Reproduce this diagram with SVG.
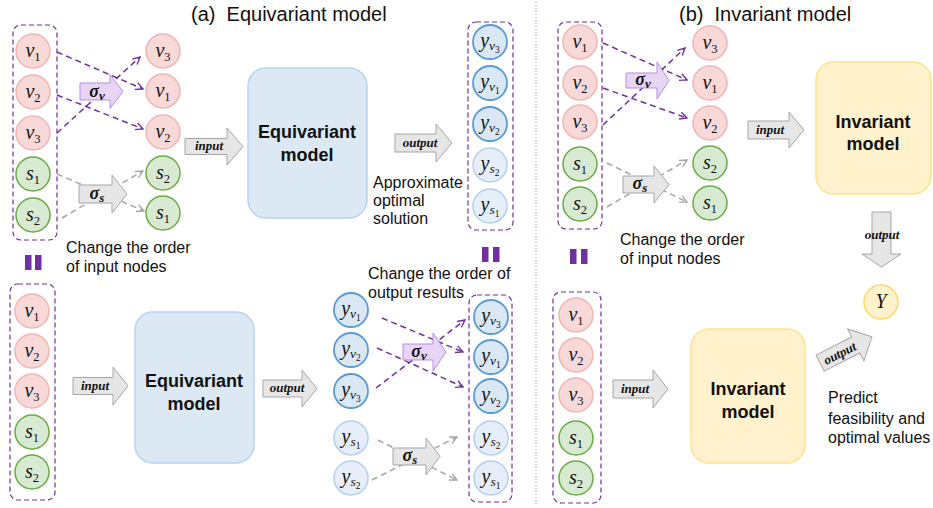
<svg xmlns="http://www.w3.org/2000/svg" width="933" height="508" viewBox="0 0 933 508">
<style>
text{font-family:"Liberation Sans",Arial,sans-serif;fill:#111}
.t{font-size:16px}
.ttl{font-size:20px}
.mdl{font-size:18px;font-weight:bold;text-anchor:middle}
.m{font-family:"Liberation Serif","Times New Roman",serif;font-style:italic;font-size:20px;text-anchor:middle}
.sb{font-style:normal;font-size:12.5px}
.sbi{font-style:italic;font-size:13.5px}
.ss{font-style:normal;font-size:9.5px}
.lb{font-family:"Liberation Serif","Times New Roman",serif;font-style:italic;font-weight:bold;font-size:13px;text-anchor:middle}
.sg{font-family:"Liberation Serif","Times New Roman",serif;font-style:italic;font-weight:bold;font-size:18px;text-anchor:middle}
.sgs{font-size:13px}
.pk{fill:#f8d9d8;stroke:#f1b5b3;stroke-width:1.5}
.gr{fill:#d9ead3;stroke:#6aac45;stroke-width:1.5}
.bd{fill:#dae8f6;stroke:#5b9bd5;stroke-width:1.8}
.bl{fill:#e6eff9;stroke:#b3cfee;stroke-width:1.5}
.yl{fill:#fff2cc;stroke:#ffd966;stroke-width:1.5}
.grp{fill:none;stroke:#7030a0;stroke-width:1.2;stroke-dasharray:5,3}
.ga{fill:#e6e6e6;stroke:#a6a6a6;stroke-width:1}
.pa{fill:#e8d5f6;stroke:#b48fe0;stroke-width:1}
.eq{fill:#7030a0}
.bm{fill:#dce9f5;stroke:#b8d3ee;stroke-width:1.5}
.ym{fill:#fff2cc;stroke:#ffe28f;stroke-width:1.5}
.dp{fill:none;stroke:#7030a0;stroke-width:1.5;stroke-dasharray:6,4;marker-end:url(#mp)}
.dg{fill:none;stroke:#a6a6a6;stroke-width:1.5;stroke-dasharray:6,4;marker-end:url(#mg)}
</style>
<defs>
<marker id="mp" viewBox="0 0 10 10" refX="9" refY="5" markerWidth="9" markerHeight="9" markerUnits="userSpaceOnUse" orient="auto"><path d="M1,1 L9,5 L1,9" fill="none" stroke="#7030a0" stroke-width="1.5"/></marker>
<marker id="mg" viewBox="0 0 10 10" refX="9" refY="5" markerWidth="9" markerHeight="9" markerUnits="userSpaceOnUse" orient="auto"><path d="M1,1 L9,5 L1,9" fill="none" stroke="#a6a6a6" stroke-width="1.5"/></marker>
</defs>

<!-- titles and notes -->
<text class="ttl" x="191" y="21">(a)&#160; Equivariant model</text>
<text class="ttl" x="679" y="21">(b)&#160; Invariant model</text>
<line x1="536" y1="2" x2="536" y2="506" stroke="#999" stroke-width="1" stroke-dasharray="1,2"/>
<text class="t" x="66" y="253">Change the order</text>
<text class="t" x="66" y="272">of input nodes</text>
<text class="t" x="373" y="188">Approximate</text>
<text class="t" x="373" y="206">optimal</text>
<text class="t" x="373" y="224">solution</text>
<text class="t" x="368" y="279">Change the order of</text>
<text class="t" x="368" y="298">output results</text>
<text class="t" x="620" y="245">Change the order</text>
<text class="t" x="620" y="264">of input nodes</text>
<text class="t" x="828" y="403">Predict</text>
<text class="t" x="828" y="424">feasibility and</text>
<text class="t" x="828" y="443">optimal values</text>
<g id="eq1"><rect class="eq" x="25" y="255" width="6.5" height="15"/><rect class="eq" x="35" y="255" width="6.5" height="15"/></g>
<g id="eq2"><rect class="eq" x="482" y="247" width="6.5" height="15"/><rect class="eq" x="493" y="247" width="6.5" height="15"/></g>
<g id="eq3"><rect class="eq" x="570" y="249" width="6.5" height="15"/><rect class="eq" x="581" y="249" width="6.5" height="15"/></g>

<!-- connectors -->
<g id="connectors">
<line class="dp" x1="57" y1="52" x2="143" y2="89"/>
<line class="dp" x1="57" y1="95" x2="143" y2="129"/>
<line class="dp" x1="57" y1="133" x2="140" y2="57"/>
<line class="dg" x1="57" y1="174" x2="144" y2="211"/>
<line class="dg" x1="62" y1="218" x2="143" y2="171"/>
<line class="dp" x1="382" y1="318" x2="463" y2="352"/>
<line class="dp" x1="377" y1="348" x2="463" y2="387"/>
<line class="dp" x1="376" y1="388" x2="465" y2="320"/>
<line class="dg" x1="378" y1="440" x2="457" y2="480"/>
<line class="dg" x1="372" y1="480" x2="457" y2="437"/>
<line class="dp" x1="603" y1="43" x2="687" y2="80"/>
<line class="dp" x1="603" y1="88" x2="687" y2="118"/>
<line class="dp" x1="603" y1="125" x2="685" y2="48"/>
<line class="dg" x1="607" y1="163" x2="687" y2="202"/>
<line class="dg" x1="607" y1="207" x2="687" y2="160"/>
</g>

<!-- block arrows -->
<g id="sigma-v-a1"><path class="pa" d="M80,83 L110,83 L110,74.5 L123,91.5 L110,108.5 L110,100 L80,100 Z"/><text class="sg" x="97" y="97">σ<tspan class="sgs" dy="3">v</tspan></text></g>
<g id="sigma-s-a1"><path class="ga" d="M79,185 L112,185 L112,175 L127,194 L112,213 L112,203 L79,203 Z"/><text class="sg" x="97" y="199">σ<tspan class="sgs" dy="3">s</tspan></text></g>
<g id="input-a1"><path class="ga" d="M185,138.5 L227,138.5 L227,128 L243,146.5 L227,165 L227,154.5 L185,154.5 Z"/><text class="lb" x="209" y="150">input</text></g>
<g id="output-a1"><path class="ga" d="M395,134 L436,134 L436,124 L452,143 L436,162 L436,152 L395,152 Z"/><text class="lb" x="420" y="147">output</text></g>
<g id="input-a2"><path class="ga" d="M73,377.5 L113,377.5 L113,367 L128,386 L113,405 L113,394.5 L73,394.5 Z"/><text class="lb" x="95" y="390">input</text></g>
<g id="output-a2"><path class="ga" d="M263,380 L302,380 L302,370 L317,388.5 L302,407 L302,397 L263,397 Z"/><text class="lb" x="287" y="392">output</text></g>
<g id="sigma-v-a2"><path class="pa" d="M403,344 L433,344 L433,333 L446,352 L433,371 L433,360 L403,360 Z"/><text class="sg" x="419" y="357">σ<tspan class="sgs" dy="3">v</tspan></text></g>
<g id="sigma-s-a2"><path class="ga" d="M393,448 L426,448 L426,438 L440,456.5 L426,475 L426,465 L393,465 Z"/><text class="sg" x="410" y="461">σ<tspan class="sgs" dy="3">s</tspan></text></g>
<g id="sigma-v-b"><path class="pa" d="M626,73 L657,73 L657,62 L669,80.5 L657,99 L657,88 L626,88 Z"/><text class="sg" x="643" y="85">σ<tspan class="sgs" dy="3">v</tspan></text></g>
<g id="sigma-s-b"><path class="ga" d="M623,176 L654,176 L654,166 L669,184.5 L654,203 L654,193 L623,193 Z"/><text class="sg" x="640" y="189">σ<tspan class="sgs" dy="3">s</tspan></text></g>
<g id="input-b1"><path class="ga" d="M748,121 L789,121 L789,112 L804,130 L789,148 L789,139 L748,139 Z"/><text class="lb" x="770" y="134">input</text></g>
<g id="output-b1"><path class="ga" d="M872,212 L891,212 L891,254 L901,254 L881.5,267 L862,254 L872,254 Z"/><text class="lb" x="882" y="239">output</text></g>
<g id="input-b2"><path class="ga" d="M613,380 L653,380 L653,370 L668,389 L653,408 L653,398 L613,398 Z"/><text class="lb" x="635" y="393">input</text></g>
<g id="output-b2" transform="translate(846,350) rotate(-27)"><path class="ga" d="M-29,-9 L11,-9 L11,-18 L29,0 L11,18 L11,9 L-29,9 Z"/><text class="lb" x="-7" y="4.5">output</text></g>

<!-- models -->
<g id="equi-model-1"><rect class="bm" x="248" y="68" width="119" height="150" rx="18"/><text class="mdl" x="307" y="138">Equivariant</text><text class="mdl" x="307" y="161">model</text></g>
<g id="equi-model-2"><rect class="bm" x="135" y="312" width="119" height="151" rx="18"/><text class="mdl" x="194" y="387">Equivariant</text><text class="mdl" x="194" y="410">model</text></g>
<g id="inv-model-1"><rect class="ym" x="816" y="62" width="115" height="132" rx="18"/><text class="mdl" x="873" y="128">Invariant</text><text class="mdl" x="873" y="150">model</text></g>
<g id="inv-model-2"><rect class="ym" x="691" y="329" width="114" height="134" rx="18"/><text class="mdl" x="748" y="395">Invariant</text><text class="mdl" x="748" y="418">model</text></g>

<!-- (a) top input group -->
<g id="grp-a1"><rect class="grp" x="13" y="25" width="44" height="215" rx="8"/>
<g id="a1-v1"><circle class="pk" cx="33" cy="51" r="17"/><text class="m" x="33" y="57">v<tspan class="sb" dy="4">1</tspan></text></g>
<g id="a1-v2"><circle class="pk" cx="33" cy="92" r="17"/><text class="m" x="33" y="98">v<tspan class="sb" dy="4">2</tspan></text></g>
<g id="a1-v3"><circle class="pk" cx="33" cy="133" r="17"/><text class="m" x="33" y="139">v<tspan class="sb" dy="4">3</tspan></text></g>
<g id="a1-s1"><circle class="gr" cx="33" cy="174" r="17"/><text class="m" x="33" y="180">s<tspan class="sb" dy="4">1</tspan></text></g>
<g id="a1-s2"><circle class="gr" cx="33" cy="215" r="17"/><text class="m" x="33" y="221">s<tspan class="sb" dy="4">2</tspan></text></g>
</g>
<g id="a1p-v3"><circle class="pk" cx="163" cy="51" r="17"/><text class="m" x="163" y="57">v<tspan class="sb" dy="4">3</tspan></text></g>
<g id="a1p-v1"><circle class="pk" cx="163" cy="91" r="17"/><text class="m" x="163" y="97">v<tspan class="sb" dy="4">1</tspan></text></g>
<g id="a1p-v2"><circle class="pk" cx="163" cy="132" r="17"/><text class="m" x="163" y="138">v<tspan class="sb" dy="4">2</tspan></text></g>
<g id="a1p-s2"><circle class="gr" cx="163" cy="173" r="17"/><text class="m" x="163" y="179">s<tspan class="sb" dy="4">2</tspan></text></g>
<g id="a1p-s1"><circle class="gr" cx="163" cy="213" r="17"/><text class="m" x="163" y="219">s<tspan class="sb" dy="4">1</tspan></text></g>

<!-- (a) top outputs -->
<g id="grp-a1out"><rect class="grp" x="468" y="22" width="45" height="208" rx="8"/>
<g id="yo-v3"><circle class="bd" cx="490" cy="42" r="17"/><text class="m" x="490" y="47">y<tspan class="sbi" dy="3">v</tspan><tspan class="ss" dy="3">3</tspan></text></g>
<g id="yo-v1"><circle class="bd" cx="490" cy="83" r="17"/><text class="m" x="490" y="88">y<tspan class="sbi" dy="3">v</tspan><tspan class="ss" dy="3">1</tspan></text></g>
<g id="yo-v2"><circle class="bd" cx="490" cy="124" r="17"/><text class="m" x="490" y="129">y<tspan class="sbi" dy="3">v</tspan><tspan class="ss" dy="3">2</tspan></text></g>
<g id="yo-s2"><circle class="bl" cx="490" cy="165" r="17"/><text class="m" x="490" y="170">y<tspan class="sbi" dy="3">s</tspan><tspan class="ss" dy="3">2</tspan></text></g>
<g id="yo-s1"><circle class="bl" cx="490" cy="206" r="17"/><text class="m" x="490" y="211">y<tspan class="sbi" dy="3">s</tspan><tspan class="ss" dy="3">1</tspan></text></g>
</g>

<!-- (a) bottom input group -->
<g id="grp-a2"><rect class="grp" x="10" y="284" width="45" height="216" rx="8"/>
<g id="a2-v1"><circle class="pk" cx="32" cy="311" r="17"/><text class="m" x="32" y="317">v<tspan class="sb" dy="4">1</tspan></text></g>
<g id="a2-v2"><circle class="pk" cx="32" cy="351" r="17"/><text class="m" x="32" y="357">v<tspan class="sb" dy="4">2</tspan></text></g>
<g id="a2-v3"><circle class="pk" cx="32" cy="391" r="17"/><text class="m" x="32" y="397">v<tspan class="sb" dy="4">3</tspan></text></g>
<g id="a2-s1"><circle class="gr" cx="32" cy="432" r="17"/><text class="m" x="32" y="438">s<tspan class="sb" dy="4">1</tspan></text></g>
<g id="a2-s2"><circle class="gr" cx="32" cy="472" r="17"/><text class="m" x="32" y="478">s<tspan class="sb" dy="4">2</tspan></text></g>
</g>

<!-- (a) bottom outputs -->
<g id="y2-v1"><circle class="bd" cx="351" cy="310" r="17"/><text class="m" x="351" y="315">y<tspan class="sbi" dy="3">v</tspan><tspan class="ss" dy="3">1</tspan></text></g>
<g id="y2-v2"><circle class="bd" cx="351" cy="350" r="17"/><text class="m" x="351" y="355">y<tspan class="sbi" dy="3">v</tspan><tspan class="ss" dy="3">2</tspan></text></g>
<g id="y2-v3"><circle class="bd" cx="351" cy="391" r="17"/><text class="m" x="351" y="396">y<tspan class="sbi" dy="3">v</tspan><tspan class="ss" dy="3">3</tspan></text></g>
<g id="y2-s1"><circle class="bl" cx="351" cy="438" r="17"/><text class="m" x="351" y="443">y<tspan class="sbi" dy="3">s</tspan><tspan class="ss" dy="3">1</tspan></text></g>
<g id="y2-s2"><circle class="bl" cx="351" cy="478" r="17"/><text class="m" x="351" y="483">y<tspan class="sbi" dy="3">s</tspan><tspan class="ss" dy="3">2</tspan></text></g>
<g id="grp-a2out"><rect class="grp" x="469" y="295" width="43" height="207" rx="8"/>
<g id="y3-v3"><circle class="bd" cx="491" cy="317" r="17"/><text class="m" x="491" y="322">y<tspan class="sbi" dy="3">v</tspan><tspan class="ss" dy="3">3</tspan></text></g>
<g id="y3-v1"><circle class="bd" cx="491" cy="357" r="17"/><text class="m" x="491" y="362">y<tspan class="sbi" dy="3">v</tspan><tspan class="ss" dy="3">1</tspan></text></g>
<g id="y3-v2"><circle class="bd" cx="491" cy="396" r="17"/><text class="m" x="491" y="401">y<tspan class="sbi" dy="3">v</tspan><tspan class="ss" dy="3">2</tspan></text></g>
<g id="y3-s2"><circle class="bl" cx="491" cy="438" r="17"/><text class="m" x="491" y="443">y<tspan class="sbi" dy="3">s</tspan><tspan class="ss" dy="3">2</tspan></text></g>
<g id="y3-s1"><circle class="bl" cx="491" cy="478" r="17"/><text class="m" x="491" y="483">y<tspan class="sbi" dy="3">s</tspan><tspan class="ss" dy="3">1</tspan></text></g>
</g>

<!-- (b) top -->
<g id="grp-b1"><rect class="grp" x="558" y="22" width="44" height="207" rx="8"/>
<g id="b1-v1"><circle class="pk" cx="580" cy="42" r="17"/><text class="m" x="580" y="48">v<tspan class="sb" dy="4">1</tspan></text></g>
<g id="b1-v2"><circle class="pk" cx="580" cy="83" r="17"/><text class="m" x="580" y="89">v<tspan class="sb" dy="4">2</tspan></text></g>
<g id="b1-v3"><circle class="pk" cx="580" cy="122" r="17"/><text class="m" x="580" y="128">v<tspan class="sb" dy="4">3</tspan></text></g>
<g id="b1-s1"><circle class="gr" cx="580" cy="164" r="17"/><text class="m" x="580" y="170">s<tspan class="sb" dy="4">1</tspan></text></g>
<g id="b1-s2"><circle class="gr" cx="580" cy="204" r="17"/><text class="m" x="580" y="210">s<tspan class="sb" dy="4">2</tspan></text></g>
</g>
<g id="b1p-v3"><circle class="pk" cx="710" cy="43" r="17"/><text class="m" x="710" y="49">v<tspan class="sb" dy="4">3</tspan></text></g>
<g id="b1p-v1"><circle class="pk" cx="710" cy="83" r="17"/><text class="m" x="710" y="89">v<tspan class="sb" dy="4">1</tspan></text></g>
<g id="b1p-v2"><circle class="pk" cx="710" cy="123" r="17"/><text class="m" x="710" y="129">v<tspan class="sb" dy="4">2</tspan></text></g>
<g id="b1p-s2"><circle class="gr" cx="710" cy="163" r="17"/><text class="m" x="710" y="169">s<tspan class="sb" dy="4">2</tspan></text></g>
<g id="b1p-s1"><circle class="gr" cx="710" cy="203" r="17"/><text class="m" x="710" y="209">s<tspan class="sb" dy="4">1</tspan></text></g>
<g id="Y"><circle class="yl" cx="881" cy="302" r="17"/><text class="m" x="881" y="308">Y</text></g>

<!-- (b) bottom -->
<g id="grp-b2"><rect class="grp" x="553" y="292" width="48" height="211" rx="8"/>
<g id="b2-v1"><circle class="pk" cx="576" cy="315" r="17"/><text class="m" x="576" y="321">v<tspan class="sb" dy="4">1</tspan></text></g>
<g id="b2-v2"><circle class="pk" cx="576" cy="355" r="17"/><text class="m" x="576" y="361">v<tspan class="sb" dy="4">2</tspan></text></g>
<g id="b2-v3"><circle class="pk" cx="576" cy="395" r="17"/><text class="m" x="576" y="401">v<tspan class="sb" dy="4">3</tspan></text></g>
<g id="b2-s1"><circle class="gr" cx="576" cy="438" r="17"/><text class="m" x="576" y="444">s<tspan class="sb" dy="4">1</tspan></text></g>
<g id="b2-s2"><circle class="gr" cx="576" cy="478" r="17"/><text class="m" x="576" y="484">s<tspan class="sb" dy="4">2</tspan></text></g>
</g>
</svg>
